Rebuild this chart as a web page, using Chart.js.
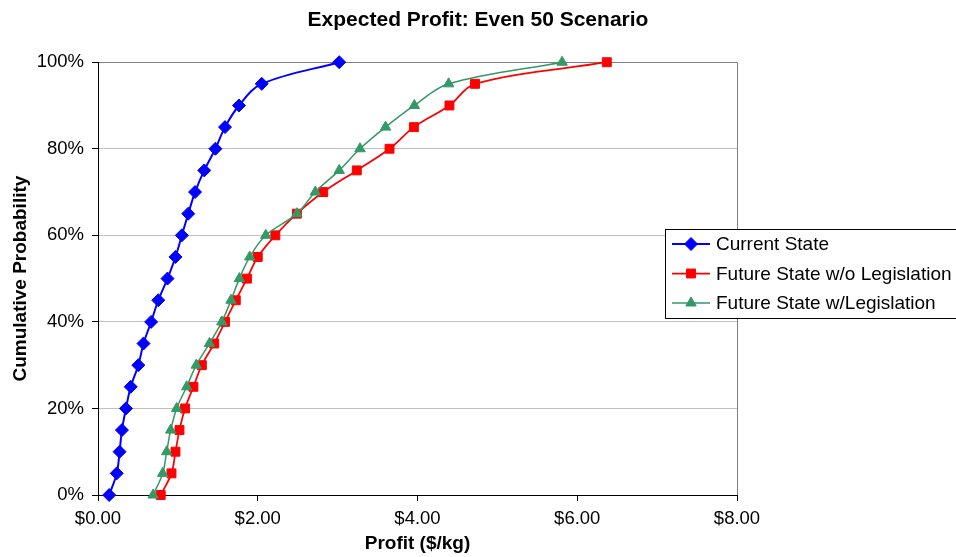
<!DOCTYPE html>
<html>
<head>
<meta charset="utf-8">
<script src="https://cdn.jsdelivr.net/npm/chart.js@4.4.1/dist/chart.umd.min.js"></script>
<style>
html,body{margin:0;padding:0;background:#fff;}
#wrap{width:956px;height:557px;position:relative;}
</style>
</head>
<body>
<div id="wrap"><canvas id="c" width="956" height="557"></canvas></div>
<script>
// Cumulative probability levels (%)
const probabilities = [0,5,10,15,20,25,30,35,40,45,50,55,60,65,70,75,80,85,90,95,100];
// Profit ($/kg) at each probability level
const currentState = [0.14,0.235,0.27,0.30,0.35,0.41,0.505,0.57,0.665,0.755,0.87,0.97,1.05,1.13,1.215,1.33,1.47,1.59,1.765,2.05,3.02];
const futureNoLegislation = [0.785,0.92,0.97,1.02,1.09,1.195,1.30,1.455,1.59,1.725,1.865,2.00,2.22,2.49,2.82,3.24,3.65,3.955,4.40,4.72,6.37];
const futureWithLegislation = [0.69,0.81,0.86,0.91,0.985,1.11,1.23,1.395,1.55,1.665,1.77,1.90,2.10,2.49,2.72,3.02,3.28,3.60,3.96,4.39,5.81];
const seriesNames = ["Current State","Future State w/o Legislation","Future State w/Legislation"];
const xTicks = [0,2,4,6,8];
const yTicks = [0,20,40,60,80,100];

const FONT = '"Liberation Sans", Arial, sans-serif';
const toPts = (xs) => xs.map((x,i) => ({x: x, y: probabilities[i]}));

const styles = [
  {color:'#0000FF', shape:'rectRot', r:6.5, lw:2, order:2},
  {color:'#FF0000', shape:'rect', r:6.3, lw:1.75, order:1},
  {color:'#339966', shape:'triangle', r:6, lw:1.5, order:0}
];
const seriesData = [currentState, futureNoLegislation, futureWithLegislation];

const datasets = seriesData.map((d,i) => ({
  label: seriesNames[i],
  data: toPts(d),
  borderColor: styles[i].color,
  backgroundColor: styles[i].color,
  pointStyle: styles[i].shape,
  pointRadius: styles[i].r,
  pointBorderWidth: 1,
  pointBorderColor: styles[i].color,
  pointBackgroundColor: styles[i].color,
  borderWidth: styles[i].lw,
  tension: 0.35,
  showLine: true,
  clip: false,
  order: styles[i].order
}));

const legendPlugin = {
  id: 'boxLegend',
  afterDraw(chart) {
    const ctx = chart.ctx;
    ctx.save();
    const L = 665.5, T = 229.5, R = 962, B = 318.5;
    ctx.fillStyle = '#fff';
    ctx.fillRect(L, T, R - L, B - T);
    ctx.strokeStyle = '#000';
    ctx.lineWidth = 1;
    ctx.strokeRect(L, T, R - L, B - T);
    const ys = [244, 273.5, 303];
    ctx.font = '19px ' + FONT;
    ctx.textBaseline = 'middle';
    ctx.textAlign = 'left';
    seriesNames.forEach((name, i) => {
      const st = styles[i];
      ctx.strokeStyle = st.color;
      ctx.lineWidth = st.lw;
      ctx.beginPath();
      ctx.moveTo(672, ys[i]);
      ctx.lineTo(710, ys[i]);
      ctx.stroke();
      ctx.fillStyle = st.color;
      ctx.lineWidth = 1;
      Chart.helpers.drawPoint(ctx, {pointStyle: st.shape, radius: st.r, rotation: 0, borderWidth: 1}, 691, ys[i]);
      ctx.fillStyle = '#000';
      ctx.fillText(name, 716, ys[i] + 1);
    });
    ctx.restore();
  }
};

new Chart(document.getElementById('c'), {
  type: 'scatter',
  data: { datasets },
  options: {
    responsive: false,
    animation: false,
    layout: { padding: { left: 0, right: 0, top: 0, bottom: 0 } },
    plugins: {
      legend: { display: false },
      tooltip: { enabled: false },
      title: {
        display: true,
        text: 'Expected Profit: Even 50 Scenario',
        color: '#000',
        font: { family: FONT, size: 21, weight: 'bold' },
        padding: { top: 8, bottom: 29 }
      }
    },
    scales: {
      x: {
        type: 'linear',
        min: 0, max: 8,
        afterBuildTicks: (s) => { s.ticks = xTicks.map(v => ({value: v})); },
        afterFit: (s) => { s.height = 62; },
        ticks: {
          color: '#000',
          font: { family: FONT, size: 18.5 },
          padding: 7,
          maxRotation: 0,
          callback: (v) => '$' + Number(v).toFixed(2)
        },
        grid: {
          color: (c) => (c.tick && c.tick.value === 8) ? '#808080' : 'rgba(0,0,0,0)',
          tickColor: '#000',
          tickLength: 6,
          lineWidth: 1
        },
        border: { display: true, color: '#000', width: 1 },
        title: {
          display: true,
          text: 'Profit ($/kg)',
          color: '#000',
          font: { family: FONT, size: 19, weight: 'bold' },
          padding: { top: 0, bottom: 2 }
        }
      },
      y: {
        type: 'linear',
        min: 0, max: 100,
        afterBuildTicks: (s) => { s.ticks = yTicks.map(v => ({value: v})); },
        afterFit: (s) => { s.width = 98; },
        ticks: {
          color: '#000',
          font: { family: FONT, size: 18.5 },
          padding: 8,
          callback: (v) => v + '%'
        },
        grid: {
          color: (c) => {
            const v = c.tick ? c.tick.value : null;
            if (v === 100) return '#808080';
            if (v === 0) return 'rgba(0,0,0,0)';
            return '#C0C0C0';
          },
          tickColor: '#000',
          tickLength: 6,
          lineWidth: 1
        },
        border: { display: true, color: '#000', width: 1 },
        title: {
          display: true,
          text: 'Cumulative Probability',
          color: '#000',
          font: { family: FONT, size: 19, weight: 'bold' },
          padding: { top: 9, bottom: 0 }
        }
      },
      ySpace: {
        type: 'linear',
        position: 'right',
        display: true,
        min: 0, max: 100,
        afterFit: (s) => { s.width = 219; },
        ticks: { display: false },
        grid: { display: false, drawTicks: false },
        border: { display: false }
      }
    }
  },
  plugins: [legendPlugin]
});
</script>
</body>
</html>
